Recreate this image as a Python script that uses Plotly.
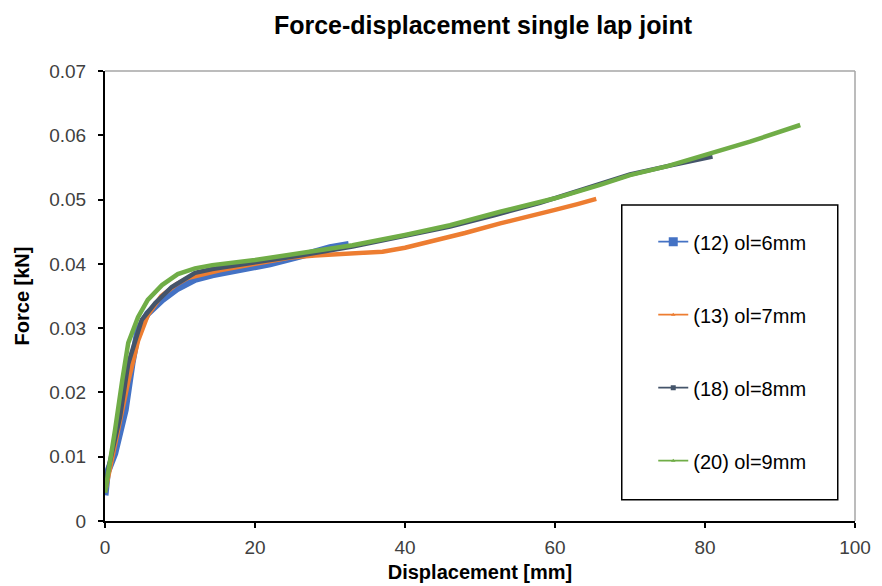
import plotly.graph_objects as go

# ---- data ----
names = ["(12) ol=6mm", "(13) ol=7mm", "(18) ol=8mm", "(20) ol=9mm"]

x12 = [0, 0.3, 1.3, 2.7, 3.6, 4.4, 5.7, 7.6, 9.7, 12, 14.3, 18, 22, 26, 30, 32.5]
y12 = [0.004, 0.0075, 0.0105, 0.0173, 0.0245, 0.0297, 0.0323, 0.0344, 0.0362, 0.0376,
       0.0383, 0.0390, 0.0400, 0.0412, 0.0425, 0.0430]

x13 = [0, 0.8, 2, 3.1, 4.4, 5.7, 7.5, 9.5, 11, 13.7, 15.3, 20, 24.7, 28, 33.6, 37, 40,
       44, 48, 52.7, 56, 60, 63, 65.5]
y13 = [0.0045, 0.009, 0.015, 0.0217, 0.028, 0.032, 0.035, 0.0368, 0.0378, 0.0386, 0.039,
       0.0400, 0.0410, 0.0413, 0.0416, 0.0419, 0.0425, 0.0436, 0.0448, 0.0463, 0.0472,
       0.0484, 0.0493, 0.0501]

x18 = [0, 0.4, 2, 3.1, 4.9, 6.7, 8.9, 12, 14.3, 20, 26, 33, 40, 46, 52, 58, 64, 70, 75, 81]
y18 = [0.0045, 0.0079, 0.0162, 0.0245, 0.0313, 0.0339, 0.0364, 0.0386, 0.0392, 0.0402,
       0.0413, 0.0427, 0.0443, 0.0458, 0.0476, 0.0495, 0.0517, 0.0539, 0.0552, 0.0567]

x20 = [0, 0.67, 1.33, 2.3, 3.1, 4.4, 5.7, 7.6, 9.7, 12, 14.3, 20, 26, 33, 40, 46, 52.7,
       60, 66, 70, 75, 80.7, 86, 92.7]
y20 = [0.0044, 0.009, 0.0141, 0.0219, 0.0277, 0.0317, 0.0344, 0.0367, 0.0384, 0.0393,
       0.0398, 0.0406, 0.0417, 0.0429, 0.0445, 0.0460, 0.0481, 0.0502, 0.0523, 0.0538,
       0.0552, 0.0571, 0.059, 0.0616]

series_x = [x12, x13, x18, x20]
series_y = [y12, y13, y18, y20]
colors = ["#4472C4", "#ED7D31", "#44546A", "#70AD47"]
widths = [7, 4.5, 4.5, 4.5]
symbols = ["square", "triangle-up", "square", "triangle-up"]
msizes = [9, 4, 5, 4]

fig = go.Figure()
for i in range(4):
    fig.add_trace(go.Scatter(
        x=series_x[i], y=series_y[i], mode="lines",
        line=dict(color=colors[i], width=widths[i]),
        showlegend=False, hoverinfo="x+y", name=names[i]))
# legend entries (thin line + marker, like the reference legend)
for i in range(4):
    fig.add_trace(go.Scatter(
        x=[None], y=[None], mode="lines+markers", name=names[i],
        line=dict(color=colors[i], width=1.8),
        marker=dict(symbol=symbols[i], size=msizes[i], color=colors[i]),
        legendgroup=str(i), showlegend=True))

font_family = "Liberation Sans, Arial, sans-serif"
fig.update_layout(
    width=874, height=578,
    margin=dict(l=97, r=27, t=63, b=65),
    paper_bgcolor="white", plot_bgcolor="white",
    font=dict(family=font_family, color="#404040", size=19),
    title=dict(text="<b>Force-displacement single lap joint</b>",
               xref="paper", x=0.504, xanchor="center",
               yref="container", y=0.971, yanchor="middle",
               font=dict(size=25, color="#000000", family=font_family)),
    xaxis=dict(range=[0, 100], dtick=20, showgrid=False, zeroline=False,
               showline=True, linecolor="#000000", linewidth=2, automargin=False,
               ticks="outside", ticklen=5, tickwidth=1.5, tickcolor="#000000",
               ticklabelstandoff=3,
               tickfont=dict(size=19, color="#404040"),
               title=dict(text="<b>Displacement [mm]</b>", standoff=8,
                          font=dict(size=20, color="#000000"))),
    yaxis=dict(range=[0, 0.07], dtick=0.01, showgrid=False, zeroline=False,
               showline=True, linecolor="#000000", linewidth=2, automargin=False,
               ticks="outside", ticklen=5, tickwidth=1.5, tickcolor="#000000",
               ticklabelstandoff=8,
               tickfont=dict(size=19, color="#404040"),
               title=dict(text="<b>Force [kN]</b>", standoff=14,
                          font=dict(size=20, color="#000000"))),
    legend=dict(x=0.731, y=0.664, xanchor="left", yanchor="top",
                bgcolor="rgba(0,0,0,0)", borderwidth=0,
                tracegroupgap=44, traceorder="grouped",
                font=dict(size=20, color="#000000")),
    shapes=[
        dict(type="line", xref="paper", yref="paper", x0=0, x1=1, y0=1, y1=1,
             line=dict(color="#A6A6A6", width=1.5)),
        dict(type="line", xref="paper", yref="paper", x0=1, x1=1, y0=0, y1=1,
             line=dict(color="#A6A6A6", width=1.5)),
        dict(type="rect", xref="paper", yref="paper", x0=0.689, x1=0.977,
             y0=0.047, y1=0.702, line=dict(color="#000000", width=1.5),
             fillcolor="rgba(255,255,255,1)", layer="below"),
    ],
)

fig.write_html("out.html")
